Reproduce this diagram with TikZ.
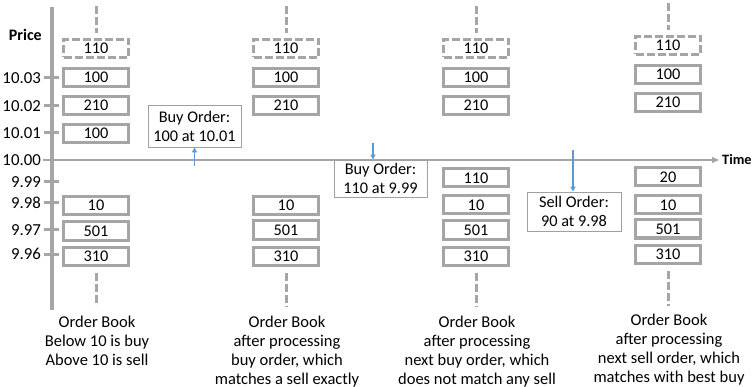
\documentclass[tikz,border=0pt]{standalone}
\usepackage{fontspec}
\setmainfont{Carlito}
\usetikzlibrary{arrows.meta}
\definecolor{axgray}{HTML}{A6A6A6}
\definecolor{boxgray}{HTML}{A5A5A5}
\definecolor{ordgray}{HTML}{A0A0A0}
\definecolor{arrblue}{HTML}{5B9BD5}
\begin{document}
\begin{tikzpicture}[x=1pt,y=-1pt,
  qty/.style={draw=boxgray, line width=3pt, minimum width=65pt, minimum height=18pt, inner sep=0pt, fill=white, font=\fontsize{16.3}{18}\selectfont},
  qtyd/.style={qty, dash pattern=on 8pt off 3pt},
  order/.style={draw=ordgray, line width=0.9pt, fill=white, align=center, inner sep=0pt, font=\fontsize{16.3}{19}\selectfont},
  lbl/.style={anchor=east, inner sep=0pt, font=\fontsize{16.8}{19}\selectfont},
  tickmark/.style={axgray, line width=3pt},
  guide/.style={axgray, line width=3pt, dash pattern=on 8pt off 3pt},
  flow/.style={arrblue, line width=1.5pt, -{Triangle[length=5pt,width=5pt]}},
  capt/.style={align=center, anchor=north, inner sep=0pt, font=\fontsize{16.5}{19}\selectfont}]
\useasboundingbox (0,0) rectangle (754,387);
% axes
\coordinate (vt) at (52,7);
\coordinate (vb) at (52,310);
\draw[axgray, line width=4pt] (vt) -- (vb);
\coordinate (h0) at (43,160);
\coordinate (h1) at (719,160);
\draw[axgray, line width=1.3pt, -{Triangle[length=7pt,width=6pt]}] (h0) -- (h1);
\node[anchor=west, inner sep=0pt, font=\fontsize{14.3}{17}\selectfont\bfseries] (time) at (722,160) {Time};
\node[anchor=east, inner sep=0pt, font=\fontsize{16}{18}\selectfont\bfseries] (price) at (42,35) {Price};
% ticks and labels
\foreach \y/\t in {78/10.03,106/10.02,133/10.01,182/9.99,203/9.98,230/9.97,254/9.96}{
  \draw[tickmark] (44,\y) -- (59,\y);
  \node[lbl] (lb\t) at (41,\y) {\t};
}
\node[lbl] (lb10) at (41,160) {10.00};
% columns
\foreach \c/\x/\dy in {1/96/0,2/286/0,3/476/0,4/668/-3}{
  \node[qtyd] (d\c) at (\x,48.5+\dy) {110};
  \node[qty] (a\c) at (\x,77.5+\dy) {100};
  \node[qty] (b\c) at (\x,105.5+\dy) {210};
  \coordinate (gt\c) at (\x,6+\dy);
  \draw[guide, shorten >=5pt] (gt\c) -- (d\c.north);
}
\node[qty] (c1) at (96,133.5) {100};
% lower rows
\node[qty] (e1) at (96,205.5) {10};
\node[qty] (f1) at (96,231) {501};
\node[qty] (g1) at (96,256.5) {310};
\node[qty] (e2) at (286,205.5) {10};
\node[qty] (f2) at (286,230) {501};
\node[qty] (g2) at (286,256) {310};
\node[qty] (n3) at (476,178) {110};
\node[qty] (e3) at (476,205) {10};
\node[qty] (f3) at (476,230) {501};
\node[qty] (g3) at (476,256) {310};
\node[qty] (n4) at (668,177) {20};
\node[qty] (e4) at (668,205) {10};
\node[qty] (f4) at (668,229) {501};
\node[qty] (g4) at (668,254) {310};
\foreach \c/\x in {1/96,2/286,3/476,4/668}{
  \coordinate (gb\c) at (\x,306);
  \draw[guide, shorten <=6pt] (g\c.south) -- (gb\c);
}
% incoming orders
\node[order, minimum width=93pt, minimum height=42pt] (bo1) at (194.5,126) {Buy Order:\\100 at 10.01};
\node[order, minimum width=93pt, minimum height=37pt] (bo2) at (380.5,178.5) {Buy Order:\\110 at 9.99};
\node[order, minimum width=94pt, minimum height=39pt] (so) at (574,211.5) {Sell Order:\\90 at 9.98};
\coordinate (p1) at (194.5,166);
\draw[flow] (p1) -- (bo1.south);
\coordinate (p2) at (373,143);
\draw[flow] (p2) -- (p2 |- bo2.north);
\coordinate (p3) at (573,150);
\draw[flow] (p3) -- (p3 |- so.north);
% captions
\node[capt] (t1) at (97,315.5) {Order Book\\Below 10 is buy\\Above 10 is sell};
\node[capt] (t2) at (287,315.5) {Order Book\\after processing\\buy order, which\\matches a sell exactly};
\node[capt] (t3) at (477,315.5) {Order Book\\after processing\\next buy order, which\\does not match any sell};
\node[capt] (t4) at (669,313.5) {Order Book\\after processing\\next sell order, which\\matches with best buy};
\end{tikzpicture}
\end{document}
